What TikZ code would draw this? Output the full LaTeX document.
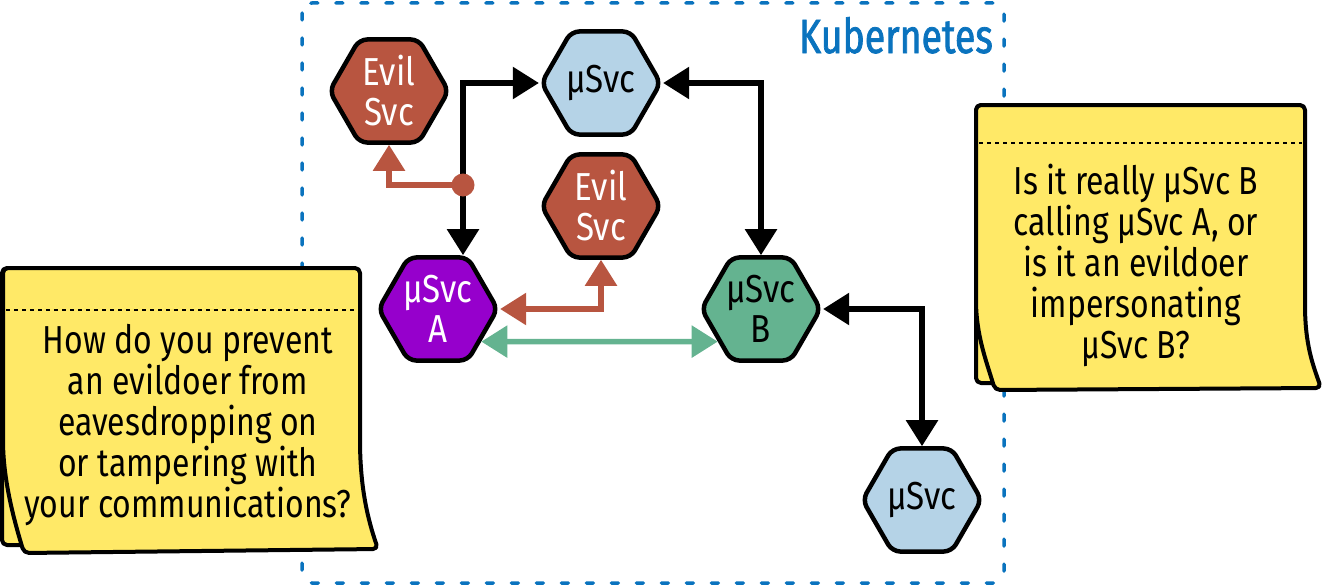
\documentclass[tikz,border=0pt]{standalone}
\usepackage{fontspec}
\setmainfont{Fira Sans}[FakeStretch=0.85]
\newfontfamily\notefont{Fira Sans}[FakeStretch=0.82]
\newfontfamily\kfont{Fira Sans}[FakeStretch=0.78, FakeBold=1.5]
\usetikzlibrary{shapes.geometric,arrows.meta,calc}
\definecolor{evil}{RGB}{184,85,64}
\definecolor{svcblue}{RGB}{181,211,231}
\definecolor{svcpurple}{RGB}{150,0,204}
\definecolor{svcgreen}{RGB}{100,179,144}
\definecolor{noteyellow}{RGB}{255,233,103}
\definecolor{kblue}{RGB}{10,115,190}
\begin{document}
\begin{tikzpicture}[x=1pt,y=-1pt,
  hexa/.style={regular polygon, regular polygon sides=6, minimum size=119pt, inner sep=0pt,
    draw=black, line width=4.5pt, rounded corners=8pt, align=center,
    font=\fontsize{39}{40}\selectfont},
  evilhex/.style={hexa, fill=evil, text=white},
  bluehex/.style={hexa, fill=svcblue, text=black},
  purplehex/.style={hexa, fill=svcpurple, text=white},
  greenhex/.style={hexa, fill=svcgreen, text=black},
  conn/.style={line width=5.5pt, >={Triangle[length=26pt,width=31pt]}},
  blackconn/.style={conn, draw=black},
  redconn/.style={conn, draw=evil},
  greenconn/.style={conn, draw=svcgreen},
  notesheet/.style={fill=noteyellow, draw=black, line width=4pt, rounded corners=5pt, line join=round},
  notefold/.style={draw=black, line width=1.3pt, dash pattern=on 4pt off 4pt},
  notetext/.style={align=center, font=\notefont\fontsize{39}{41}\selectfont, inner sep=0pt},
  kbound/.style={draw=kblue, line width=3.5pt, dash pattern=on 7pt off 18pt, line cap=round, rounded corners=10pt}
]
\useasboundingbox (0,0) rectangle (1324,586);

% Kubernetes boundary
\draw[kbound] (302,3) rectangle (1004,583);
\node[text=kblue, font=\kfont\fontsize{48}{50}\selectfont, anchor=base east, inner sep=0pt] (k8s) at (993,53) {Kubernetes};

% services
\node[evilhex] (evil1) at (389,91) {Evil\\Svc};
\node[bluehex] (top) at (601,83) {µSvc};
\node[evilhex] (evil2) at (601,206) {Evil\\Svc};
\node[purplehex] (A) at (438,309) {µSvc\\A};
\node[greenhex] (B) at (761,309) {µSvc\\B};
\node[bluehex] (bot) at (922,500) {µSvc};

% connectors
\draw[blackconn,<->] ([xshift=25pt]A.north) |- (top.west);
\node[circle, fill=evil, minimum size=23pt, inner sep=0pt] (dot) at (463,185) {};
\draw[redconn,->] (dot.center) -| (evil1.south);
\draw[blackconn,<->] (top.east) -| (B.north);
\draw[redconn,<->] (evil2.south) |- (A.east);
\draw[greenconn,<->] (A.-37) -- (B.-143);
\draw[blackconn,<->] (B.east) -| (bot.north);

% left sticky note
\draw[notesheet] (2,268) rectangle (200,545);
\draw[notesheet] (3,268) -- (360,268) -- (360,435)
  .. controls (360,488) and (368,520) .. (378,549) -- (24,553)
  .. controls (14,520) and (3,480) .. (3,435) -- cycle;
\draw[notefold] (6,310) -- (357,310);
\node[notetext, anchor=base] (q1) at (188,517)
  {How do you prevent\\an evildoer from\\eavesdropping on\\or tampering with\\your communications?};

% right sticky note
\draw[notesheet] (976,105) rectangle (1100,383);
\draw[notesheet] (976,105) -- (1305,105) -- (1305,300)
  .. controls (1305,345) and (1313,365) .. (1321,388) -- (995,390)
  .. controls (986,360) and (976,335) .. (976,295) -- cycle;
\draw[notefold] (979,143) -- (1302,143);
\node[notetext, anchor=base] (q2) at (1136,358)
  {Is it really µSvc B\\calling µSvc A, or\\is it an evildoer\\impersonating\\µSvc B?};
\end{tikzpicture}
\end{document}
